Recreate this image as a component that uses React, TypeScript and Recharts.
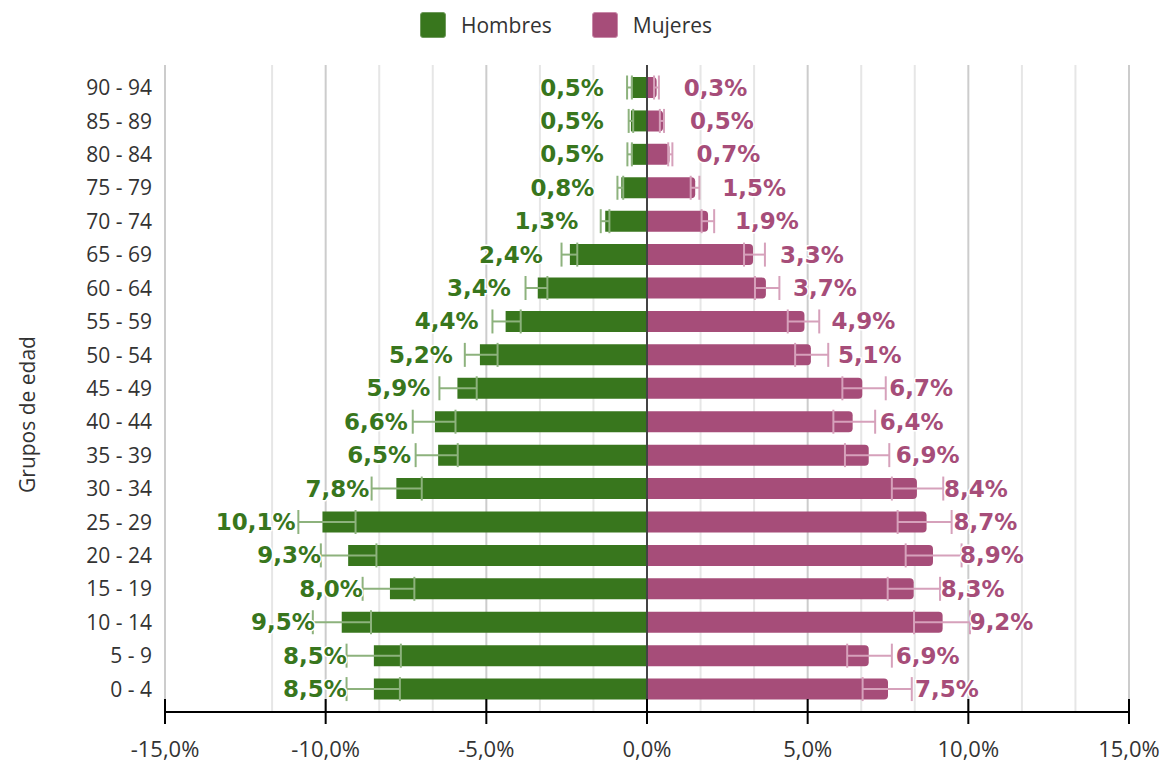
import { BarChart, Bar, XAxis, YAxis, CartesianGrid, ErrorBar, LabelList, Legend, ReferenceLine, Label } from 'recharts';

const ages = ['90 - 94', '85 - 89', '80 - 84', '75 - 79', '70 - 74', '65 - 69', '60 - 64', '55 - 59', '50 - 54', '45 - 49', '40 - 44', '35 - 39', '30 - 34', '25 - 29', '20 - 24', '15 - 19', '10 - 14', '5 - 9', '0 - 4'];

const hombres = [0.5, 0.5, 0.5, 0.8, 1.3, 2.4, 3.4, 4.4, 5.2, 5.9, 6.6, 6.5, 7.8, 10.1, 9.3, 8.0, 9.5, 8.5, 8.5];
const hombresLow = [0.47, 0.43, 0.47, 0.74, 1.17, 2.17, 3.1, 3.93, 4.65, 5.3, 5.96, 5.89, 7.01, 9.07, 8.42, 7.24, 8.59, 7.66, 7.69];
const hombresHigh = [0.62, 0.57, 0.61, 0.92, 1.44, 2.66, 3.78, 4.81, 5.67, 6.46, 7.29, 7.2, 8.57, 10.85, 10.15, 8.85, 10.4, 9.35, 9.35];

const mujeres = [0.3, 0.5, 0.7, 1.5, 1.9, 3.3, 3.7, 4.9, 5.1, 6.7, 6.4, 6.9, 8.4, 8.7, 8.9, 8.3, 9.2, 6.9, 7.5];
const mujeresLow = [0.22, 0.4, 0.66, 1.36, 1.7, 3.02, 3.36, 4.38, 4.61, 6.08, 5.8, 6.16, 7.62, 7.8, 8.05, 7.49, 8.31, 6.23, 6.71];
const mujeresHigh = [0.37, 0.53, 0.79, 1.63, 2.09, 3.67, 4.12, 5.36, 5.64, 7.43, 7.1, 7.54, 9.22, 9.48, 9.79, 9.12, 10.05, 7.62, 8.24];

const xTicks = [-15, -10, -5, 0, 5, 10, 15];
const majorGrid = [-15, -10, -5, 5, 10, 15];
const minorGrid = [-13.333, -11.667, -8.333, -6.667, -3.333, -1.667, 1.667, 3.333, 6.667, 8.333, 11.667, 13.333];

const GREEN = '#38761d';
const PINK = '#a64d79';
const GREEN_ERR = '#8db27d';
const PINK_ERR = '#d6a1bb';

// hombres go to the left, error bars as [towards outside, towards zero]
const data = ages.map((age, i) => ({
  age,
  hombres: -hombres[i],
  hErr: [hombresHigh[i] - hombres[i], hombres[i] - hombresLow[i]],
  mujeres: mujeres[i],
  mErr: [mujeres[i] - mujeresLow[i], mujeresHigh[i] - mujeres[i]],
}));

const fmt = (v: number) => Math.abs(v).toFixed(1).replace('.', ',') + '%';

const labelStyle = {
  fontFamily: '"DejaVu Sans", Verdana, sans-serif',
  fontWeight: 700,
  fontSize: 23,
  stroke: '#fff',
  strokeWidth: 3,
  paintOrder: 'stroke',
  strokeLinejoin: 'round',
} as const;

const box = (p: any) => {
  const vb = p.viewBox && p.viewBox.width !== undefined ? p.viewBox : p;
  return { x: Number(vb.x), y: Number(vb.y), width: Number(vb.width), height: Number(vb.height) };
};

const HombresLabel = (props: any) => {
  const { x, y, width, height } = box(props);
  const left = Math.min(x, x + width);
  return (
    <text x={left - 27} y={y + height / 2} textAnchor="end" dominantBaseline="central" fill={GREEN} style={labelStyle}>
      {fmt(props.value)}
    </text>
  );
};

const MujeresLabel = (props: any) => {
  const { x, y, width, height } = box(props);
  const right = Math.max(x, x + width);
  return (
    <text x={right + 27} y={y + height / 2} textAnchor="start" dominantBaseline="central" fill={PINK} style={labelStyle}>
      {fmt(props.value)}
    </text>
  );
};

const XTick = (props: any) => {
  const { x, y, payload } = props;
  return (
    <g>
      <line x1={x} x2={x} y1={y - 13} y2={y + 12} stroke="#000" strokeWidth={2} />
      <text x={x} y={y + 36} textAnchor="middle" dominantBaseline="central" fill="#333" fontSize={22} fontFamily='"Open Sans", sans-serif'>
        {payload.value.toFixed(1).replace('.', ',') + '%'}
      </text>
    </g>
  );
};

const YTitle = (props: any) => {
  const vb = props.viewBox;
  const cx = vb.x + 27;
  const cy = vb.y + vb.height / 2 + 26;
  return (
    <text x={cx} y={cy} transform={`rotate(-90 ${cx} ${cy})`} textAnchor="middle" dominantBaseline="central" fill="#333" fontSize={21} fontFamily='"Open Sans", sans-serif'>
      Grupos de edad
    </text>
  );
};

const legendItems = [
  { name: 'Hombres', color: GREEN, border: '#6f9a5c' },
  { name: 'Mujeres', color: PINK, border: '#c98aa9' },
];

const LegendContent = () => (
  <div style={{ height: 60, display: 'flex', alignItems: 'flex-start', paddingLeft: 420, paddingTop: 7, boxSizing: 'border-box', fontFamily: '"Open Sans", sans-serif', fontSize: 21, color: '#333' }}>
    {legendItems.map((it, i) => (
      <div key={it.name} style={{ display: 'flex', alignItems: 'center', marginRight: i === 0 ? 40 : 0 }}>
        <div style={{ width: 24, height: 24, background: it.color, border: `1px solid ${it.border}`, borderRadius: 3, marginRight: 15 }} />
        <span style={{ lineHeight: '26px' }}>{it.name}</span>
      </div>
    ))}
  </div>
);

export default function App() {
  return (
    <div style={{ position: 'absolute', left: 0, top: 0, width: 1171, height: 762, background: '#fff' }}>
      <BarChart
        width={1171}
        height={762}
        data={data}
        layout="vertical"
        margin={{ top: 5, right: 42, bottom: 0, left: 0 }}
        barSize={21}
        barGap={-21}
      >
        <CartesianGrid horizontal={false} vertical verticalValues={minorGrid} stroke="#e6e6e6" strokeWidth={2} />
        <CartesianGrid horizontal={false} vertical verticalValues={majorGrid} stroke="#cccccc" strokeWidth={2} />
        <Legend verticalAlign="top" align="left" content={<LegendContent />} wrapperStyle={{ left: 0, width: 1171 }} />
        <XAxis
          type="number"
          domain={[-15, 15]}
          ticks={xTicks}
          allowDataOverflow
          height={50}
          axisLine={{ stroke: '#000', strokeWidth: 2 }}
          tickLine={false}
          tickSize={0}
          tickMargin={0}
          tick={<XTick />}
        />
        <YAxis
          type="category"
          dataKey="age"
          width={165}
          axisLine={false}
          tickLine={false}
          tickSize={0}
          tickMargin={13}
          padding={{ top: 6, bottom: 6 }}
          tick={{ fill: '#333', fontSize: 21, fontFamily: '"Open Sans", sans-serif' }}
          interval={0}
        >
          <Label content={<YTitle />} />
        </YAxis>
        <Bar dataKey="hombres" name="Hombres" fill={GREEN} isAnimationActive={false}>
          <ErrorBar dataKey="hErr" direction="x" width={12} stroke={GREEN_ERR} strokeWidth={2} />
          <LabelList dataKey="hombres" content={<HombresLabel />} />
        </Bar>
        <Bar dataKey="mujeres" name="Mujeres" fill={PINK} radius={[0, 4, 4, 0]} isAnimationActive={false}>
          <ErrorBar dataKey="mErr" direction="x" width={12} stroke={PINK_ERR} strokeWidth={2} />
          <LabelList dataKey="mujeres" content={<MujeresLabel />} />
        </Bar>
        <ReferenceLine x={0} stroke="#444" strokeWidth={2} />
      </BarChart>
    </div>
  );
}
